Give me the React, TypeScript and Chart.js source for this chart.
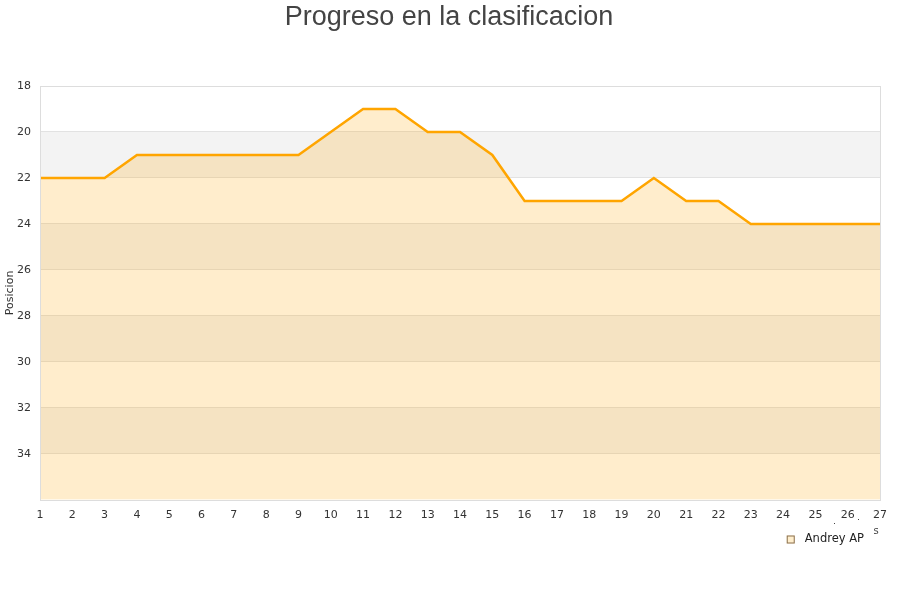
import React, { useEffect, useRef } from "react";
import { Chart, registerables } from "chart.js";

Chart.register(...registerables);

const jornadas = ["1","2","3","4","5","6","7","8","9","10","11","12","13","14","15","16","17","18","19","20","21","22","23","24","25","26","27"];
const posiciones = [22,22,22,21,21,21,21,21,21,20,19,19,20,20,21,23,23,23,23,22,23,23,24,24,24,24,24];
const yTicks = [18,20,22,24,26,28,30,32,34];
const serieNombre = "Andrey AP";
const titulo = "Progreso en la clasificacion";

const bandsPlugin = {
  id: "bands",
  beforeDraw(chart: any) {
    const { ctx, chartArea, scales } = chart;
    const y = scales.y;
    ctx.save();
    ctx.fillStyle = "#ffffff";
    ctx.fillRect(chartArea.left, chartArea.top, chartArea.right - chartArea.left, chartArea.bottom - chartArea.top);
    ctx.fillStyle = "#f3f3f3";
    for (let v = 20; v < 36; v += 4) {
      const a = y.getPixelForValue(v);
      const b = y.getPixelForValue(v + 2);
      ctx.fillRect(chartArea.left, Math.min(a, b), chartArea.right - chartArea.left, Math.abs(b - a));
    }
    ctx.restore();
  },
  afterDraw(chart: any) {
    const { ctx, chartArea } = chart;
    ctx.save();
    ctx.strokeStyle = "#dddddd";
    ctx.lineWidth = 1;
    ctx.strokeRect(Math.round(chartArea.left) + 0.5, Math.round(chartArea.top) + 0.5, Math.round(chartArea.right - chartArea.left), Math.round(chartArea.bottom - chartArea.top));
    // title
    ctx.font = "27px 'Liberation Sans'";
    ctx.fillStyle = "#444444";
    ctx.textAlign = "center";
    ctx.textBaseline = "alphabetic";
    ctx.fillText(titulo, 449, 25);
    // legend
    const label = chart.data.datasets[0].label;
    ctx.font = "11.5px 'DejaVu Sans'";
    ctx.textBaseline = "middle";
    ctx.textAlign = "right";
    const textRight = chartArea.right - 16;
    const ly = 539.5;
    ctx.fillStyle = "#222222";
    ctx.fillText(label, textRight, ly);
    const tw = ctx.measureText(label).width;
    const bx = textRight - tw - 18;
    ctx.fillStyle = "#ffeecc";
    ctx.fillRect(bx, ly - 4, 8, 8);
    ctx.strokeStyle = "#8a7050";
    ctx.strokeRect(bx + 0.5, ly - 3.5, 7, 7);
    // stray axis-title fragment
    ctx.font = "10px 'DejaVu Sans'";
    ctx.fillStyle = "#444444";
    ctx.textAlign = "center";
    ctx.fillText("s", 876, 531);
    ctx.fillRect(834, 523, 1, 1);
    ctx.fillRect(858, 519, 1, 1);
    ctx.restore();
  },
};

export default function App() {
  const ref = useRef<HTMLCanvasElement | null>(null);
  useEffect(() => {
    document.body.style.margin = "0";
    const chart = new Chart(ref.current as HTMLCanvasElement, {
      type: "line",
      data: {
        labels: jornadas,
        datasets: [
          {
            label: serieNombre,
            data: posiciones,
            borderColor: "#ffa500",
            backgroundColor: "rgba(255,165,0,0.2)",
            borderWidth: 2.5,
            pointRadius: 0,
            tension: 0,
            fill: { value: 36 },
          },
        ],
      },
      options: {
        responsive: false,
        animation: false,
        layout: { padding: { left: 4, right: 20, top: 86, bottom: 77 } },
        plugins: {
          title: { display: false },
          legend: { display: false },
          tooltip: { enabled: false },
        },
        scales: {
          x: {
            offset: false,
            grid: { display: false },
            border: { display: false },
            ticks: {
              color: "#333333",
              font: { family: "DejaVu Sans", size: 11 },
              maxRotation: 0,
              autoSkip: false,
              padding: 1,
            },
          },
          y: {
            reverse: true,
            min: 18,
            max: 36,
            afterBuildTicks: (axis: any) => {
              axis.ticks = yTicks.map((v) => ({ value: v }));
            },
            afterFit: (axis: any) => {
              axis.width = 36;
            },
            grid: { color: "#e2e2e2", drawTicks: false },
            border: { display: false },
            ticks: {
              color: "#333333",
              font: { family: "DejaVu Sans", size: 11 },
              padding: 9,
            },
            title: {
              display: true,
              text: "Posicion",
              color: "#333333",
              font: { family: "DejaVu Sans", size: 11 },
              padding: 0,
            },
          },
        },
      },
      plugins: [bandsPlugin],
    });
    return () => chart.destroy();
  }, []);
  return <canvas ref={ref} width={900} height={600} style={{ display: "block" }} />;
}
